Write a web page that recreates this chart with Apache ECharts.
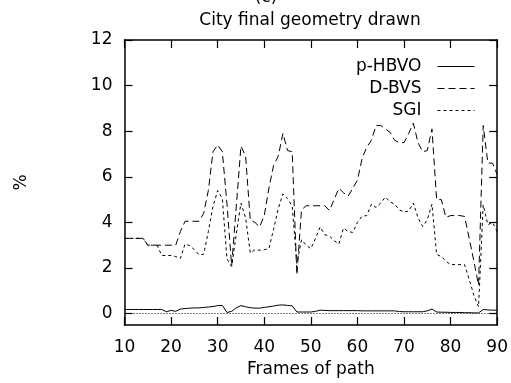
<!DOCTYPE html>
<html>
<head>
<meta charset="utf-8">
<script src="https://cdn.jsdelivr.net/npm/echarts@6/dist/echarts.min.js"></script>
<style>html,body{margin:0;padding:0;background:#fff;}#c{width:511px;height:383px;}</style>
</head>
<body>
<div id="c"></div>
<script>
var titleText = 'City final geometry drawn';
var panelText = '(c)';
var xName = 'Frames of path';
var yName = '%';
var xTicks = [10, 20, 30, 40, 50, 60, 70, 80, 90];
var yTicks = [0, 2, 4, 6, 8, 10, 12];
var seriesNames = ['p-HBVO', 'D-BVS', 'SGI'];

var frames = [];
for (var f = 10; f <= 90; f++) frames.push(f);

var pHBVO = [
  0.18, 0.18, 0.18, 0.18, 0.18, 0.18, 0.18, 0.18, 0.18, 0.08,
  0.14, 0.10, 0.20, 0.22, 0.24, 0.25, 0.25, 0.27, 0.29, 0.31,
  0.35, 0.36, 0.05, 0.10, 0.25, 0.35, 0.30, 0.26, 0.24, 0.24,
  0.27, 0.30, 0.33, 0.37, 0.38, 0.36, 0.34, 0.07, 0.07, 0.07,
  0.07, 0.10, 0.15, 0.14, 0.13, 0.13, 0.13, 0.13, 0.13, 0.13,
  0.13, 0.12, 0.12, 0.12, 0.12, 0.12, 0.12, 0.12, 0.12, 0.09,
  0.08, 0.08, 0.08, 0.08, 0.08, 0.12, 0.20, 0.07, 0.06, 0.06,
  0.05, 0.05, 0.05, 0.04, 0.04, 0.03, 0.03, 0.18, 0.16, 0.15,
  0.15
];

var dBVS = [
  3.3, 3.3, 3.3, 3.3, 3.3, 3.0, 3.0, 3.0, 3.0, 3.0,
  3.0, 3.0, 3.6, 4.05, 4.05, 4.05, 4.05, 4.4, 5.4, 7.1,
  7.4, 7.1, 4.8, 2.1, 4.7, 7.35, 6.9, 4.1, 4.0, 3.8,
  4.3, 5.5, 6.5, 6.9, 7.9, 7.15, 7.1, 1.7, 4.55, 4.73,
  4.73, 4.73, 4.73, 4.73, 4.52, 5.0, 5.5, 5.3, 5.15, 5.5,
  5.85, 6.8, 7.3, 7.6, 8.25, 8.25, 8.1, 7.95, 7.6, 7.5,
  7.5, 7.9, 8.35, 7.5, 7.1, 7.15, 8.1, 5.0, 5.0, 4.22,
  4.3, 4.3, 4.3, 4.26, 3.3, 2.3, 1.25, 8.25, 6.6, 6.6,
  6.1
];

var sgi = [
  3.3, 3.3, 3.3, 3.3, 3.3, 3.0, 3.0, 3.0, 2.55, 2.55,
  2.55, 2.5, 2.42, 3.05, 2.98, 2.8, 2.58, 2.6, 3.6, 4.7,
  5.4, 5.05, 2.4, 2.07, 3.5, 4.85, 4.2, 2.66, 2.8, 2.78,
  2.8, 2.85, 3.7, 4.6, 5.25, 5.05, 4.7, 2.2, 3.24, 3.0,
  2.85, 3.3, 3.8, 3.46, 3.4, 3.2, 3.05, 3.75, 3.6, 3.56,
  4.0, 4.27, 4.3, 4.8, 4.65, 4.85, 5.11, 4.9, 4.8, 4.55,
  4.45, 4.5, 4.85, 4.2, 3.82, 4.12, 4.8, 2.6, 2.5, 2.3,
  2.15, 2.15, 2.15, 2.15, 1.5, 0.8, 0.3, 4.77, 3.9, 4.0,
  3.6
];

function pairs(vals) {
  return frames.map(function (fr, i) { return [fr, vals[i]]; });
}

var FONT = 'DejaVu Sans';
var FS = 17;
var txt = { fontFamily: FONT, fontSize: FS, color: '#000' };

var chart = echarts.init(document.getElementById('c'), null, { renderer: 'canvas' });

var axisLineStyle = { color: '#000', width: 1.5 };
var tickStyle = { color: '#000', width: 1.2 };

function legendFor(name, top) {
  return {
    data: [name],
    right: 36,
    top: top,
    align: 'right',
    itemWidth: 37,
    itemHeight: 1,
    itemGap: 0,
    padding: 0,
    selectedMode: false,
    itemStyle: { color: 'rgba(0,0,0,0)', borderWidth: 0, opacity: 0 },
    lineStyle: { width: 1 },
    textStyle: { fontFamily: FONT, fontSize: FS, color: '#000', padding: [0, 11, 0, 0] }
  };
}

chart.setOption({
  animation: false,
  backgroundColor: '#fff',
  title: [
    { text: titleText, left: 310, top: 12, textAlign: 'center', padding: 0,
      textStyle: { fontFamily: FONT, fontSize: FS, fontWeight: 'normal', color: '#000' } },
    { text: panelText, left: 266, top: -11, textAlign: 'center', padding: 0,
      textStyle: { fontFamily: FONT, fontSize: FS, fontWeight: 'normal', color: '#000' } }
  ],
  legend: [
    legendFor(seriesNames[0], 58),
    legendFor(seriesNames[1], 80),
    legendFor(seriesNames[2], 102)
  ],
  grid: { left: 124.5, right: 13.5, top: 40, bottom: 58, containLabel: false },
  xAxis: [
    {
      type: 'value', min: 10, max: 90, interval: 10, position: 'bottom',
      name: xName, nameLocation: 'middle', nameGap: 34, nameTextStyle: txt,
      axisLine: { show: true, onZero: false, lineStyle: axisLineStyle },
      axisTick: { show: true, inside: true, length: 8, lineStyle: tickStyle },
      axisLabel: { show: true, margin: 14, fontFamily: FONT, fontSize: FS, color: '#000' },
      splitLine: { show: false }
    },
    {
      type: 'value', min: 10, max: 90, interval: 10, position: 'top',
      axisLine: { show: true, onZero: false, lineStyle: axisLineStyle },
      axisTick: { show: true, inside: true, length: 8, lineStyle: tickStyle },
      axisLabel: { show: false },
      splitLine: { show: false }
    }
  ],
  yAxis: [
    {
      type: 'value', min: -0.5, max: 12, position: 'left',
      name: yName, nameLocation: 'middle', nameGap: 94, nameTextStyle: txt,
      axisLine: { show: true, onZero: false, lineStyle: axisLineStyle },
      axisTick: { show: true, inside: true, length: 8, lineStyle: tickStyle, customValues: yTicks },
      axisLabel: { show: true, margin: 12, fontFamily: FONT, fontSize: FS, color: '#000', customValues: yTicks },
      splitLine: { show: false }
    },
    {
      type: 'value', min: -0.5, max: 12, position: 'right',
      axisLine: { show: true, onZero: false, lineStyle: axisLineStyle },
      axisTick: { show: true, inside: true, length: 8, lineStyle: tickStyle, customValues: yTicks },
      axisLabel: { show: false, customValues: yTicks },
      splitLine: { show: false }
    }
  ],
  series: [
    {
      name: seriesNames[0], type: 'line', data: pairs(pHBVO), xAxisIndex: 0, yAxisIndex: 0,
      showSymbol: false, symbol: 'none', silent: true,
      lineStyle: { color: '#000', width: 1, type: 'solid' },
      itemStyle: { color: '#000' },
      markLine: {
        silent: true, symbol: 'none', label: { show: false },
        lineStyle: { color: '#000', width: 1, type: [1, 2] },
        data: [{ yAxis: 0 }]
      }
    },
    {
      name: seriesNames[1], type: 'line', data: pairs(dBVS), xAxisIndex: 0, yAxisIndex: 0,
      showSymbol: false, symbol: 'none', silent: true,
      lineStyle: { color: '#000', width: 1, type: [7, 4] },
      itemStyle: { color: '#000' }
    },
    {
      name: seriesNames[2], type: 'line', data: pairs(sgi), xAxisIndex: 0, yAxisIndex: 0,
      showSymbol: false, symbol: 'none', silent: true,
      lineStyle: { color: '#000', width: 1, type: [3, 3] },
      itemStyle: { color: '#000' }
    }
  ]
});
</script>
</body>
</html>
